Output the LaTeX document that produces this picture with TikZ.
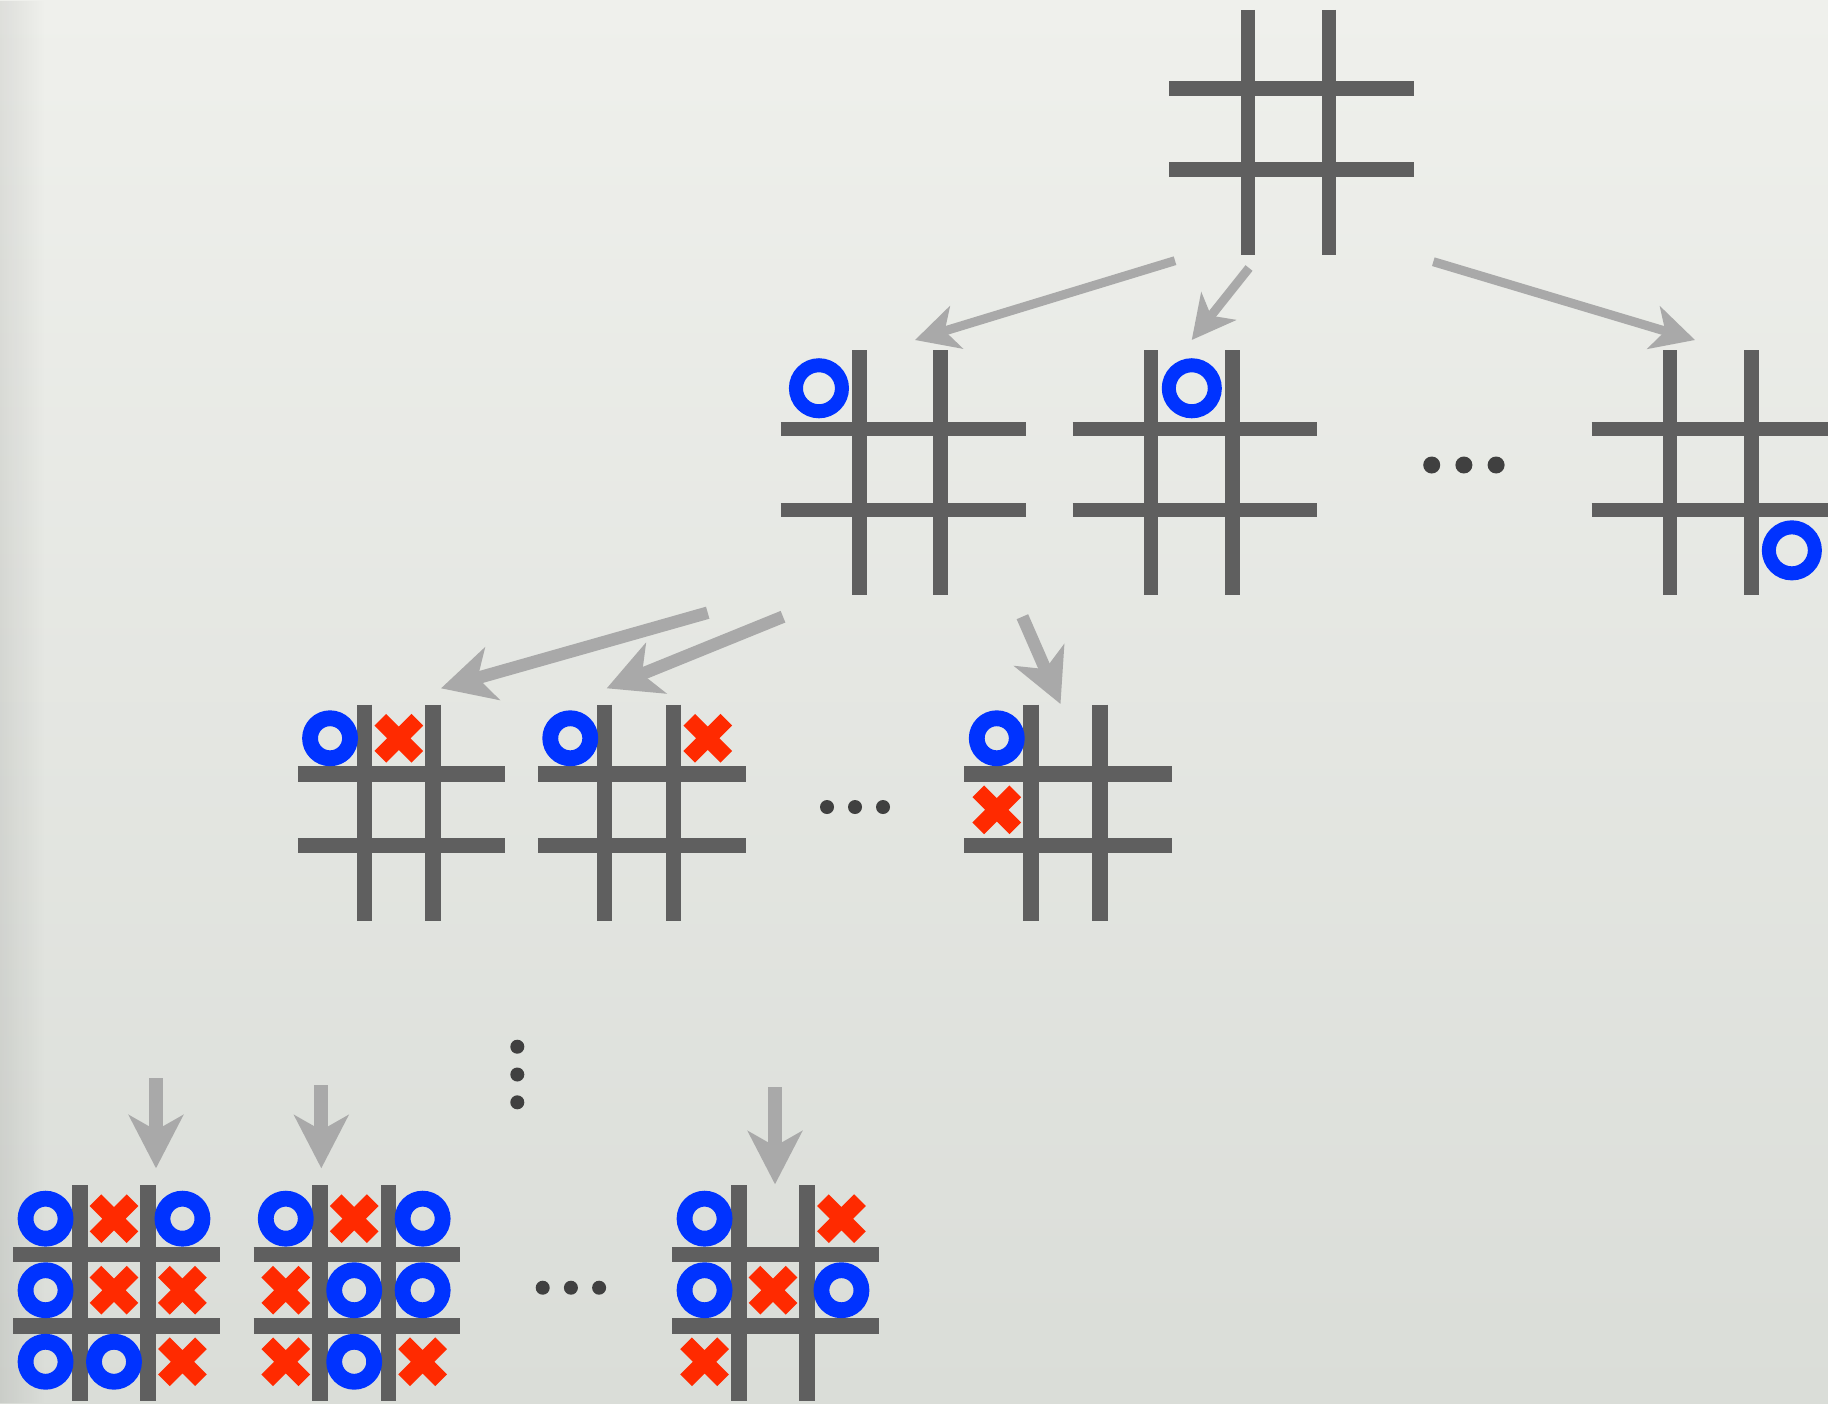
\documentclass[tikz,border=0pt]{standalone}
\usepackage{xcolor}
\usepackage{tikz}
\usetikzlibrary{arrows.meta,fadings}
\definecolor{cBoard}{HTML}{5F5F5F}
\definecolor{cO}{HTML}{0033FF}
\definecolor{cX}{HTML}{FF2A00}
\definecolor{cArrow}{HTML}{A9A9A9}
\definecolor{cDots}{HTML}{404040}
\definecolor{cBgTop}{HTML}{EFF0EC}
\definecolor{cBgBot}{HTML}{DADDD8}
\tikzset{
  gline/.style={draw=cBoard,line width=#1},
  dotn/.style={circle,fill=cDots,inner sep=0pt,minimum size=#1},
  dotn/.default=0.14cm,
  arr/.style={-{Stealth[length=0.43cm,width=0.44cm,inset=0.12cm]},line width=0.09cm,color=cArrow},
  arrb/.style={-{Stealth[length=0.53cm,width=0.54cm,inset=0.15cm]},line width=#1,color=cArrow},
  arrb/.default=0.125cm,
  % pieces, sizes in absolute units
  pics/opc/.style={code={\draw[cO,line width=0.158cm] (0,0) circle[radius=0.2cm];}},
  pics/opcL/.style={code={\draw[cO,line width=0.14cm] (0,0) circle[radius=0.23cm];}},
  pics/xpc/.style={code={
    \draw[cX,line width=0.165cm] (-0.185cm,-0.185cm) -- (0.185cm,0.185cm)
                                 (-0.185cm,0.185cm) -- (0.185cm,-0.185cm);
  }},
  % grid in cell units: lines at +-0.5, running from -1.47 to 1.55
  pics/board/.style={code={
    \foreach \k in {-0.5,0.5} {
      \draw[gline=#1] (\k,-1.47) -- (\k,1.55);
      \draw[gline=#1] (-1.47,\k) -- (1.55,\k);
    }
  }},
  pics/board/.default=0.143cm,
}
\tikzfading[name=fadeedge,left color=transparent!0,right color=transparent!100]

\begin{document}
\begin{tikzpicture}[x=0.01cm,y=-0.01cm]
  \shade[top color=cBgTop,bottom color=cBgBot] (0,0) rectangle (1828,1403);
  \fill[black,opacity=0.07,path fading=fadeedge] (0,0) rectangle (45,1403);
  \useasboundingbox (0,0) rectangle (1828,1403);

  % board centres
  \coordinate (b0) at (1288.5,129);
  \coordinate (bA) at (900,469.3);
  \coordinate (bB) at (1191.8,469.3);
  \coordinate (bC) at (1710.8,469.3);
  \coordinate (bD) at (398.8,809.8);
  \coordinate (bE) at (639,809.8);
  \coordinate (bF) at (1065.5,809.8);
  \coordinate (bG) at (114,1290.2);
  \coordinate (bH) at (354.2,1290.2);
  \coordinate (bI) at (773,1290.2);

  % empty board
  \begin{scope}[shift={(b0)},x=0.81cm,y=-0.81cm]
    \pic {board};
  \end{scope}

  % first move
  \begin{scope}[shift={(bA)},x=0.81cm,y=-0.81cm]
    \pic {board};
    \pic (A11) at (-1,-1) {opcL};
  \end{scope}
  \begin{scope}[shift={(bB)},x=0.81cm,y=-0.81cm]
    \pic {board};
    \pic (B21) at (0,-1) {opcL};
  \end{scope}
  \begin{scope}[shift={(bC)},x=0.81cm,y=-0.81cm]
    \pic {board};
    \pic (C33) at (1,1) {opcL};
  \end{scope}

  % second move
  \begin{scope}[shift={(bD)},x=0.687cm,y=-0.715cm]
    \pic {board=0.157cm};
    \foreach \p/\c/\r in {opc/1/1,xpc/2/1}
      \pic (D\c\r) at (\c-2,\r-2) {\p};
  \end{scope}
  \begin{scope}[shift={(bE)},x=0.687cm,y=-0.715cm]
    \pic {board=0.157cm};
    \foreach \p/\c/\r in {opc/1/1,xpc/3/1}
      \pic (E\c\r) at (\c-2,\r-2) {\p};
  \end{scope}
  \begin{scope}[shift={(bF)},x=0.687cm,y=-0.715cm]
    \pic {board=0.157cm};
    \foreach \p/\c/\r in {opc/1/1,xpc/1/2}
      \pic (F\c\r) at (\c-2,\r-2) {\p};
  \end{scope}

  % end positions
  \begin{scope}[shift={(bG)},x=0.684cm,y=-0.715cm]
    \pic {board=0.157cm};
    \foreach \p/\c/\r in {opc/1/1,xpc/2/1,opc/3/1,opc/1/2,xpc/2/2,xpc/3/2,opc/1/3,opc/2/3,xpc/3/3}
      \pic (G\c\r) at (\c-2,\r-2) {\p};
  \end{scope}
  \begin{scope}[shift={(bH)},x=0.684cm,y=-0.715cm]
    \pic {board=0.157cm};
    \foreach \p/\c/\r in {opc/1/1,xpc/2/1,opc/3/1,xpc/1/2,opc/2/2,opc/3/2,xpc/1/3,opc/2/3,xpc/3/3}
      \pic (H\c\r) at (\c-2,\r-2) {\p};
  \end{scope}
  \begin{scope}[shift={(bI)},x=0.684cm,y=-0.715cm]
    \pic {board=0.157cm};
    \foreach \p/\c/\r in {opc/1/1,xpc/3/1,opc/1/2,xpc/2/2,opc/3/2,xpc/1/3}
      \pic (I\c\r) at (\c-2,\r-2) {\p};
  \end{scope}

  % ellipses
  \foreach \i in {0,1,2} {
    \node[dotn=0.17cm] (h1\i) at (1431.7+32.2*\i,465) {};
    \node[dotn] (h2\i) at (827+28*\i,807) {};
    \node[dotn] (v\i) at (517.3,1046.7+27.8*\i) {};
    \node[dotn] (h3\i) at (542.7+28.2*\i,1287.7) {};
  }

  % arrow ends
  \coordinate (a1s) at (1175,260.7);   \coordinate (a1e) at (915,340);
  \coordinate (a2s) at (1249,268);     \coordinate (a2e) at (1191.7,340);
  \coordinate (a3s) at (1433.3,261.7); \coordinate (a3e) at (1695,340);
  \coordinate (a4s) at (707.7,612.7);  \coordinate (a4e) at (441,688.3);
  \coordinate (a5s) at (783,616.7);    \coordinate (a5e) at (606.7,688.3);
  \coordinate (a6s) at (1022.4,616.7); \coordinate (a6e) at (1060.5,704);
  \coordinate (a7s) at (156,1078.3);   \coordinate (a7e) at (156,1168.3);
  \coordinate (a8s) at (321.3,1085);   \coordinate (a8e) at (321.3,1168.3);
  \coordinate (a9s) at (775,1087.3);   \coordinate (a9e) at (775,1184.3);

  \draw[arr] (a1s) -- (a1e); \draw[arr] (a2s) -- (a2e); \draw[arr] (a3s) -- (a3e);
  \draw[arrb] (a4s) -- (a4e); \draw[arrb] (a5s) -- (a5e); \draw[arrb] (a6s) -- (a6e);
  \draw[arrb=0.137cm] (a7s) -- (a7e); \draw[arrb=0.137cm] (a8s) -- (a8e); \draw[arrb=0.137cm] (a9s) -- (a9e);
\end{tikzpicture}
\end{document}
